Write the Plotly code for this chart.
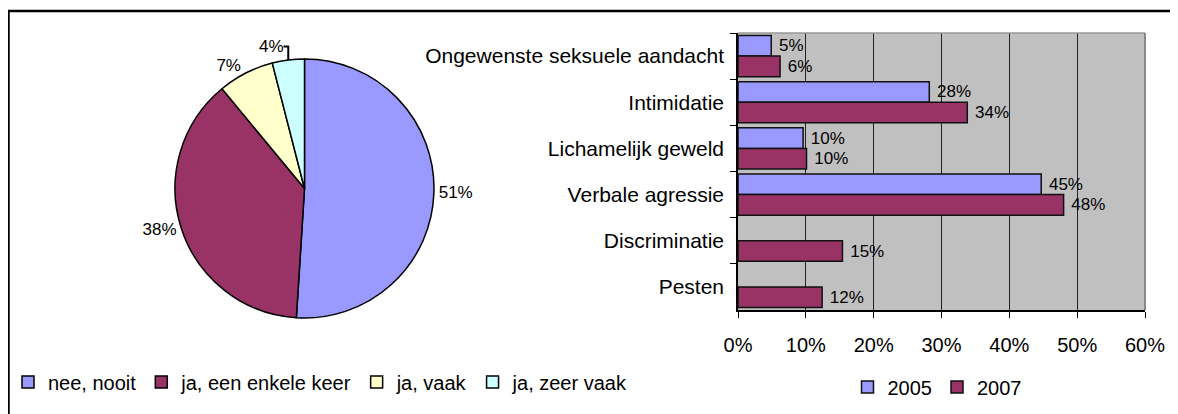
import plotly.graph_objects as go

# page body has an 8px margin, so the figure sits at (8, 8) in the window
OFF = 8
W, H = 1178 - OFF, 414 - OFF

# pie data
pie_labels = ["nee, nooit", "ja, een enkele keer", "ja, vaak", "ja, zeer vaak"]
pie_values = [51, 38, 7, 4]
pie_colors = ["#9999FF", "#993366", "#FFFFCC", "#CCFFFF"]

# bar data (percent)
categories = ["Ongewenste seksuele aandacht", "Intimidatie", "Lichamelijk geweld",
              "Verbale agressie", "Discriminatie", "Pesten"]
y2005 = [4.9, 28.2, 9.6, 44.7, None, None]
y2007 = [6.2, 33.8, 10.1, 48.0, 15.4, 12.4]
x_ticks = [0, 10, 20, 30, 40, 50, 60]
x_ticktext = ["0%", "10%", "20%", "30%", "40%", "50%", "60%"]

FONT = "Arial, Liberation Sans, sans-serif"


def px_x(v):
    return (v - OFF) / W


def px_y(v):
    return 1 - (v - OFF) / H


fig = go.Figure()

fig.add_trace(go.Pie(
    labels=pie_labels,
    values=pie_values,
    sort=False,
    direction="clockwise",
    rotation=0,
    marker=dict(colors=pie_colors, line=dict(color="black", width=1.5)),
    textposition="outside",
    texttemplate="%{value}%",
    textfont=dict(size=17, color="black", family=FONT),
    domain=dict(x=[px_x(175), px_x(434)], y=[px_y(318), px_y(59)]),
    legend="legend",
    hoverinfo="label+value",
))

fig.add_trace(go.Bar(
    y=categories, x=y2005, name="2005", orientation="h",
    marker=dict(color="#9999FF", line=dict(color="#111111", width=1.5)),
    texttemplate=" %{x:.0f}%", textposition="outside",
    textfont=dict(size=17, color="black", family=FONT),
    cliponaxis=False,
    legend="legend2",
))
fig.add_trace(go.Bar(
    y=categories, x=y2007, name="2007", orientation="h",
    marker=dict(color="#993366", line=dict(color="#111111", width=1.5)),
    texttemplate=" %{x:.0f}%", textposition="outside",
    textfont=dict(size=17, color="black", family=FONT),
    cliponaxis=False,
    legend="legend2",
))

fig.update_layout(
    width=W, height=H,
    margin=dict(l=0, r=0, t=0, b=0),
    paper_bgcolor="white",
    plot_bgcolor="#C0C0C0",
    font=dict(family=FONT, size=20, color="black"),
    barmode="group",
    bargap=0.11,
    bargroupgap=0,
    xaxis=dict(
        domain=[px_x(738), px_x(1145)],
        range=[0, 60],
        tickmode="array",
        tickvals=x_ticks,
        ticktext=x_ticktext,
        showgrid=True, gridcolor="#222222", gridwidth=1,
        showline=True, linecolor="black", linewidth=1.5,
        ticks="outside", ticklen=6, tickcolor="black",
        ticklabelstandoff=10,
        zeroline=False,
        automargin=False,
        fixedrange=True,
    ),
    yaxis=dict(
        domain=[px_y(310), px_y(33)],
        type="category",
        autorange="reversed",
        tickson="boundaries",
        ticks="outside", ticklen=6, tickcolor="black",
        showline=True, linecolor="black", linewidth=1.5,
        showgrid=False,
        tickfont=dict(size=21),
        ticklabelstandoff=8,
        automargin=False,
        fixedrange=True,
    ),
    legend=dict(
        orientation="h",
        x=0, xanchor="left",
        y=px_y(382), yanchor="middle",
        font=dict(size=20),
        bgcolor="rgba(0,0,0,0)",
        traceorder="normal",
    ),
    legend2=dict(
        orientation="h",
        x=px_x(937), xanchor="center",
        y=px_y(387), yanchor="middle",
        font=dict(size=20),
        bgcolor="rgba(0,0,0,0)",
    ),
    shapes=[
        # outer frame, cut off on right and bottom
        dict(type="rect", xref="paper", yref="paper",
             x0=px_x(8.5), x1=1.05, y0=-0.05, y1=px_y(11),
             line=dict(color="black", width=2.5)),
        # grey plot-area border on top and right
        dict(type="line", xref="paper", yref="paper",
             x0=px_x(738), x1=px_x(1145), y0=px_y(33), y1=px_y(33),
             line=dict(color="#999999", width=1.5)),
        dict(type="line", xref="paper", yref="paper",
             x0=px_x(1145), x1=px_x(1145), y0=px_y(33), y1=px_y(310),
             line=dict(color="#888888", width=2)),
    ],
)

fig.write_html("out.html")
